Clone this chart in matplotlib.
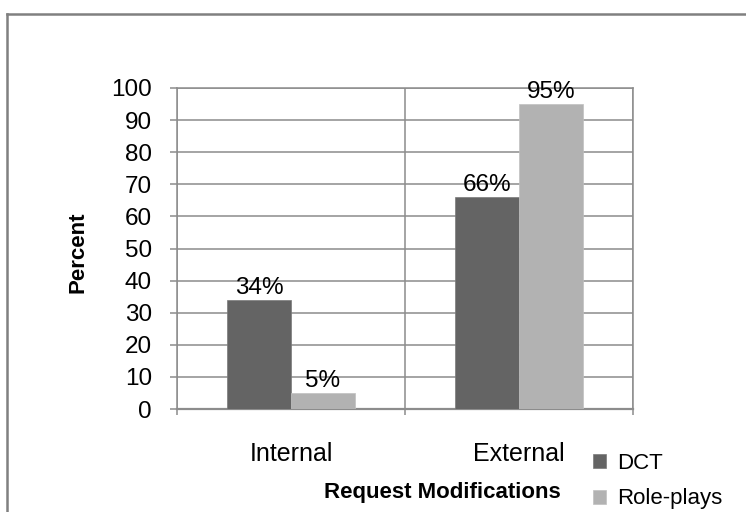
import matplotlib
matplotlib.use("Agg")
import matplotlib.pyplot as plt
from matplotlib.lines import Line2D
import numpy as np

categories = ["Internal", "External"]
series_names = ["DCT", "Role-plays"]
dct_values = [34, 66]
roleplay_values = [5, 95]
yticks = [0, 10, 20, 30, 40, 50, 60, 70, 80, 90, 100]

plt.rcParams['font.family'] = ['Liberation Sans', 'DejaVu Sans']

W, H = 746, 512
fig = plt.figure(figsize=(W / 100, H / 100), dpi=100)
ax = fig.add_axes([177 / W, 1 - 409 / H, 456 / W, 321 / H])

grid_c = "#8c8c8c"
dark = "#646464"
light = "#b2b2b2"

x = np.arange(len(categories))
w = 0.28
b1 = ax.bar(x - w / 2, dct_values, w, color=dark, edgecolor="#7a7a7a", linewidth=0.5,
            label=series_names[0], zorder=3)
b2 = ax.bar(x + w / 2, roleplay_values, w, color=light, edgecolor="#c0c0c0", linewidth=0.5,
            label=series_names[1], zorder=3)

for bars, vals in ((b1, dct_values), (b2, roleplay_values)):
    for r, v in zip(bars, vals):
        ax.text(r.get_x() + r.get_width() / 2, v + 0.2, f"{v}%", ha="center", va="bottom",
                fontsize=17.5, color="black", zorder=4)

ax.set_xlim(-0.5, 1.5)
ax.set_ylim(0, 100)
ax.set_yticks(yticks)
ax.set_yticklabels([str(t) for t in yticks], fontsize=17.5)
ax.set_xticks(x)
ax.set_xticklabels(categories, fontsize=18)
ax.tick_params(axis="x", length=0, pad=24)
ax.tick_params(axis="y", length=5, width=1.1, color=grid_c, pad=13)
ax.set_xticks([-0.5, 0.5, 1.5], minor=True)
ax.tick_params(axis="x", which="minor", length=4, width=1.1, color=grid_c)

ax.yaxis.grid(True, color=grid_c, linewidth=1.1, zorder=0)
ax.xaxis.grid(True, which="minor", color=grid_c, linewidth=1.1, zorder=0)
ax.set_axisbelow(True)
for s in ax.spines.values():
    s.set_color(grid_c)
    s.set_linewidth(1.1)
ax.spines["bottom"].set_linewidth(1.6)

fig.text(78 / W, 1 - 252 / H, "Percent", rotation=90, ha="center", va="center",
         fontsize=16, fontweight="bold")
fig.text(442 / W, 1 - 498 / H, "Request Modifications", ha="center", va="baseline",
         fontsize=16, fontweight="bold")

fig.legend(handles=[b1, b2], labels=series_names, loc="upper left",
           bbox_to_anchor=(593 / W, 1 - 453 / H), frameon=False, fontsize=16,
           handlelength=0.6, handleheight=0.6, handletextpad=0.5, labelspacing=0.65,
           borderaxespad=0, borderpad=0)

# outer chart frame (extends beyond the crop)
fig.add_artist(Line2D([7 / W, 7 / W], [1 - 14 / H, -0.1], color="#808080", linewidth=1.8,
                      transform=fig.transFigure))
fig.add_artist(Line2D([7 / W, 1.1], [1 - 14 / H, 1 - 14 / H], color="#808080", linewidth=1.8,
                      transform=fig.transFigure))

fig.savefig("out.png", dpi=100)
